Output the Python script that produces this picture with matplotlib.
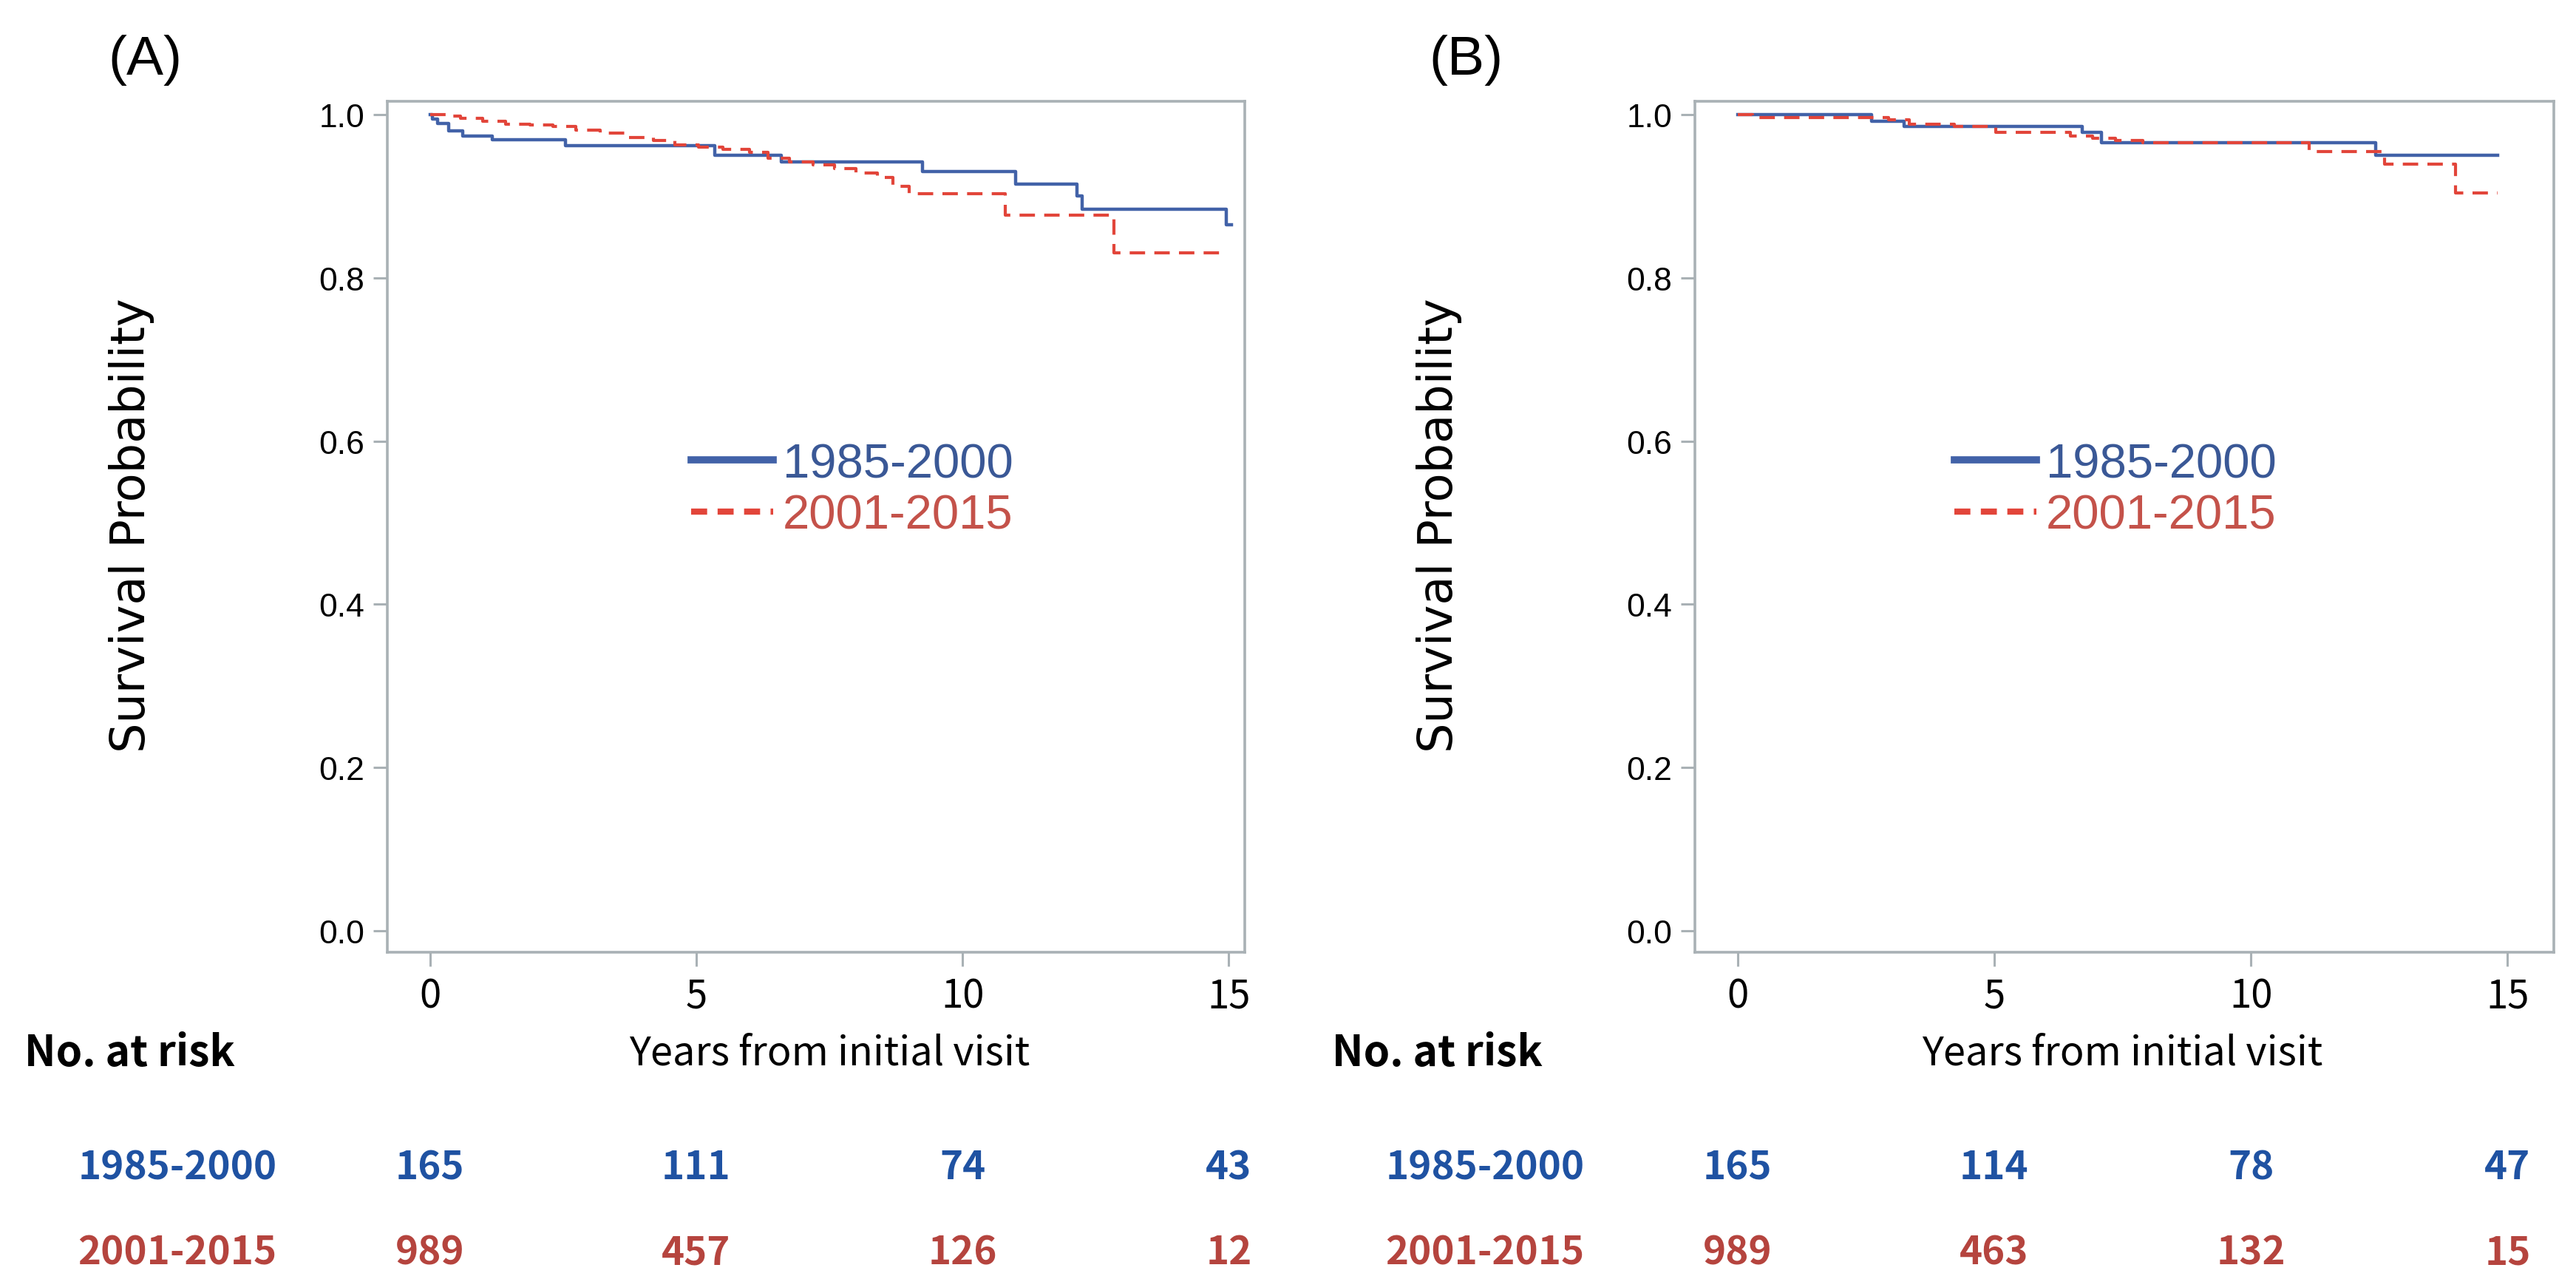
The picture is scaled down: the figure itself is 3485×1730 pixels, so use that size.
import matplotlib
matplotlib.use("Agg")
import matplotlib.pyplot as plt
import matplotlib.transforms as mtransforms
from matplotlib import font_manager
from matplotlib.lines import Line2D

# Kaplan-Meier step data (time in years, survival)
groups = ["1985-2000", "2001-2015"]
x_ticks = [0, 5, 10, 15]
y_ticks = [0.0, 0.2, 0.4, 0.6, 0.8, 1.0]

a_blue_t = [0, 0.05, 0.15, 0.35, 0.61, 1.17, 2.55, 5.35, 6.6, 9.25, 11.0, 12.15, 12.25, 14.95, 15.05]
a_blue_s = [1.0, 0.994, 0.989, 0.980, 0.973, 0.969, 0.962, 0.950, 0.942, 0.930, 0.915, 0.900, 0.884, 0.865, 0.865]
a_red_t = [0, 0.3, 0.58, 0.99, 1.42, 1.88, 2.31, 2.74, 3.2, 3.7, 4.2, 4.6, 5.05, 5.5, 6.0, 6.35,
           6.75, 7.2, 7.6, 8.0, 8.4, 8.7, 9.0, 10.8, 12.85, 14.95]
a_red_s = [1.0, 0.998, 0.9955, 0.992, 0.988, 0.987, 0.985, 0.981, 0.977, 0.972, 0.968, 0.963, 0.960,
           0.957, 0.9535, 0.946, 0.942, 0.938, 0.934, 0.928, 0.923, 0.912, 0.903, 0.877, 0.830, 0.830]

b_blue_t = [0, 2.61, 3.25, 6.71, 7.09, 12.43, 14.80]
b_blue_s = [1.0, 0.992, 0.985, 0.978, 0.965, 0.950, 0.950]
b_red_t = [0, 0.3, 2.94, 3.35, 4.22, 5.03, 6.48, 6.91, 7.36, 7.9, 11.13, 12.60, 13.99, 14.80]
b_red_s = [1.0, 0.996, 0.993, 0.988, 0.985, 0.978, 0.973, 0.971, 0.968, 0.965, 0.954, 0.939, 0.904, 0.904]

# number at risk at 0, 5, 10, 15 years
a_risk_1 = [165, 111, 74, 43]
a_risk_2 = [989, 457, 126, 12]
b_risk_1 = [165, 114, 78, 47]
b_risk_2 = [989, 463, 132, 15]

W, H = 3485, 1731
fig = plt.figure(figsize=(W / 100, H / 100), dpi=100)

installed = {f.name for f in font_manager.fontManager.ttflist}
NARROW = ["Liberation Sans Narrow" if "Liberation Sans Narrow" in installed else "Liberation Sans", "DejaVu Sans"]
SANS = ["Liberation Sans", "DejaVu Sans"]
KR = ["Noto Sans CJK KR", "DejaVu Sans"]
tick_size = 36 if NARROW[0] == "Liberation Sans Narrow" else 32

GRAY = "#A9B1B5"
BLUE_LINE = "#4262A8"
RED_LINE = "#E2453A"
BLUE_LEG = "#3A5896"
RED_LEG = "#C4524A"
BLUE_TAB = "#1F52A2"
RED_TAB = "#B5443E"

panels = [
    dict(left=524, right=1684, xlim=(-0.8, 15.3), letter="(A)", letter_x=196, leg_x=935,
         blue=(a_blue_t, a_blue_s), red=(a_red_t, a_red_s), risk=(a_risk_1, a_risk_2)),
    dict(left=2293, right=3455, xlim=(-0.83, 15.9), letter="(B)", letter_x=1983, leg_x=2644,
         blue=(b_blue_t, b_blue_s), red=(b_red_t, b_red_s), risk=(b_risk_1, b_risk_2)),
]

top_px, bot_px = 138, 1289

for p in panels:
    ax = fig.add_axes([p["left"] / W, 1 - bot_px / H, (p["right"] - p["left"]) / W,
                       (bot_px - top_px) / H])
    shift = p["left"] - 524

    ax.step(p["blue"][0], p["blue"][1], where="post", color=BLUE_LINE, lw=3.2)
    ax.step(p["red"][0], p["red"][1], where="post", color=RED_LINE, lw=3.0,
            linestyle=(0, (5, 3)))

    ax.set_xlim(*p["xlim"])
    ax.set_ylim(-0.026, 1.016)
    ax.set_xticks(x_ticks)
    ax.set_yticks(y_ticks)
    ax.set_yticklabels([f"{v:.1f}" for v in y_ticks], family=NARROW, fontsize=tick_size)
    ax.set_xticklabels([str(v) for v in x_ticks], family=KR, fontsize=38)
    ax.tick_params(axis="both", direction="out", length=14, width=2.2, color=GRAY)
    ax.tick_params(axis="y", pad=8)
    ax.tick_params(axis="x", pad=9)
    for s in ax.spines.values():
        s.set_color(GRAY)
        s.set_linewidth(2.6)

    # legend inside the plot
    handles = [Line2D([], [], color=BLUE_LINE, lw=7),
               Line2D([], [], color=RED_LINE, lw=6, linestyle=(0, (2.6, 1.7)))]
    leg = fig.legend(handles, groups, loc="center left",
                     bbox_to_anchor=(p["leg_x"] / W, 1 - 664 / H),
                     frameon=False, borderpad=0, borderaxespad=0,
                     handlelength=1.7, handletextpad=0.2, labelspacing=0.15,
                     prop={"family": SANS, "size": 47})
    for t, c in zip(leg.get_texts(), [BLUE_LEG, RED_LEG]):
        t.set_color(c)

    # y label, panel letter
    fig.text((178 + shift) / W, 1 - 711 / H, "Survival Probability", rotation=90,
             ha="center", va="center", family=["DejaVu Sans"], fontsize=46)
    fig.text(p["letter_x"] / W, 1 - 82 / H, p["letter"], ha="center", va="center",
             family=SANS, fontsize=54)

    # x label and number-at-risk table
    tr = mtransforms.blended_transform_factory(ax.transData, fig.transFigure)
    ax.text(7.5, 1 - 1425 / H, "Years from initial visit", transform=tr,
            ha="center", va="center", family=KR, fontsize=39)
    fig.text((33 + shift) / W, 1 - 1425 / H, "No. at risk", ha="left", va="center",
             family=KR, fontsize=41, fontweight="bold")
    for row, (vals, col, ypx) in enumerate(zip(p["risk"], [BLUE_TAB, RED_TAB], [1580, 1695])):
        fig.text((240 + shift) / W, 1 - ypx / H, groups[row], ha="center", va="center",
                 family=KR, fontsize=38, fontweight="bold", color=col)
        for xv, n in zip(x_ticks, vals):
            ax.text(xv, 1 - ypx / H, str(n), transform=tr, ha="center", va="center",
                    family=KR, fontsize=38, fontweight="bold", color=col)

fig.savefig("out.png", dpi=100, facecolor="white")
